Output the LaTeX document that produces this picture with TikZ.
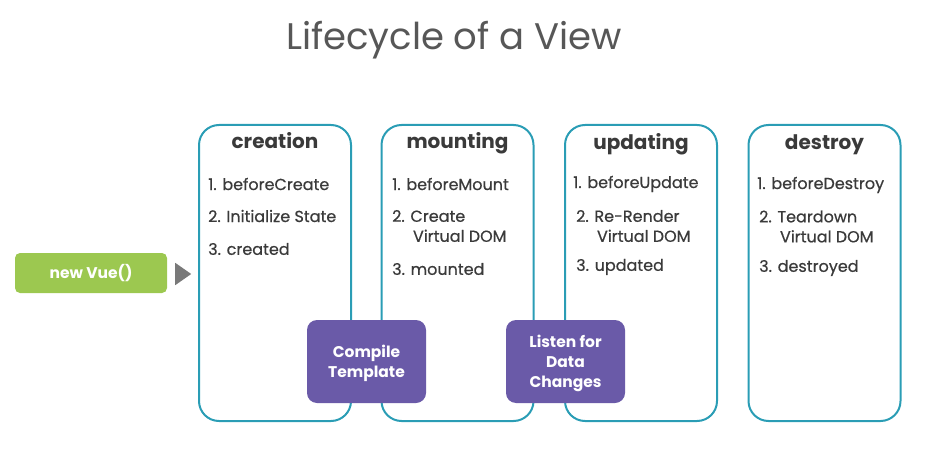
\documentclass[tikz,border=0pt]{standalone}
\usepackage{fontspec}
\setmainfont{Poppins}
\usetikzlibrary{shapes.geometric}
\definecolor{teal}{HTML}{2A9DB5}
\definecolor{purp}{HTML}{6A5AA8}
\definecolor{vgreen}{HTML}{9CC850}
\definecolor{txt}{HTML}{3A3A3A}
\begin{document}
\begin{tikzpicture}[x=1pt,y=-1pt,
  stage/.style={draw=teal,line width=2pt,rounded corners=20pt,minimum width=152pt,minimum height=296pt,inner sep=0pt},
  head/.style={text=txt,anchor=base,font=\fontsize{20}{22}\selectfont\bfseries},
  item/.style={text=txt,font=\fontsize{16}{20}\selectfont\addfontfeature{FakeBold=0.6},anchor=west,align=left,inner sep=0pt},
  action/.style={fill=purp,rounded corners=10pt,minimum width=119pt,minimum height=83pt,text=white,align=center,font=\fontsize{15.5}{20}\selectfont\bfseries,inner sep=0pt}]
\useasboundingbox (0,0) rectangle (928,465);
\node[text=txt!85,font=\fontsize{37}{42}\selectfont] (title) at (454,40) {Lifecycle of a View};
% stages
\node[stage] (creation) at (275,273) {};
\node[stage] (mounting) at (457.5,273) {};
\node[stage] (updating) at (641,273) {};
\node[stage] (destroy) at (824.5,273) {};
\node[head] (hc) at (275,149) {creation};
\node[head] (hm) at (457.5,149) {mounting};
\node[head] (hu) at (641,150) {updating};
\node[head] (hd) at (824.5,150) {destroy};
% creation
\node[item] (c1) at (208,184) {1. beforeCreate};
\node[item] (c2) at (208,216) {2. Initialize State};
\node[item] (c3) at (208,249) {3. created};
% mounting
\node[item] (m1) at (392,184) {1. beforeMount};
\node[item] (m2) at (392,226) {2. Create\\\hspace*{1.3em}Virtual DOM};
\node[item] (m3) at (392,269) {3. mounted};
% updating
\node[item] (u1) at (573,184) {1. beforeUpdate};
\node[item] (u2) at (576,226) {2. Re-Render\\\hspace*{1.3em}Virtual DOM};
\node[item] (u3) at (576,267) {3. updated};
% destroy
\node[item] (d1) at (757,185) {1. beforeDestroy};
\node[item] (d2) at (759,226.5) {2. Teardown\\\hspace*{1.3em}Virtual DOM};
\node[item] (d3) at (759,268) {3. destroyed};
% actions
\node[action] (compile) at (366.5,361.5) {};
\node[text=white,align=center,font=\fontsize{15.5}{20}\selectfont\bfseries] (compiletxt) at (366.5,363) {Compile\\Template};
\node[action] (listen) at (565.5,361.5) {};
\node[text=white,align=center,font=\fontsize{15.5}{20}\selectfont\bfseries] (listentxt) at (565.5,363) {Listen for\\Data\\Changes};
% new Vue
\node[fill=vgreen,rounded corners=5pt,minimum width=152pt,minimum height=40pt,text=white,font=\fontsize{15.5}{18}\selectfont\bfseries,inner sep=0pt] (vue) at (91,273) {new Vue()};
\node[isosceles triangle,isosceles triangle apex angle=70,fill=gray!95!black,minimum height=16pt,inner sep=0pt,anchor=west] (arrow) at (175,274) {};
\end{tikzpicture}
\end{document}
